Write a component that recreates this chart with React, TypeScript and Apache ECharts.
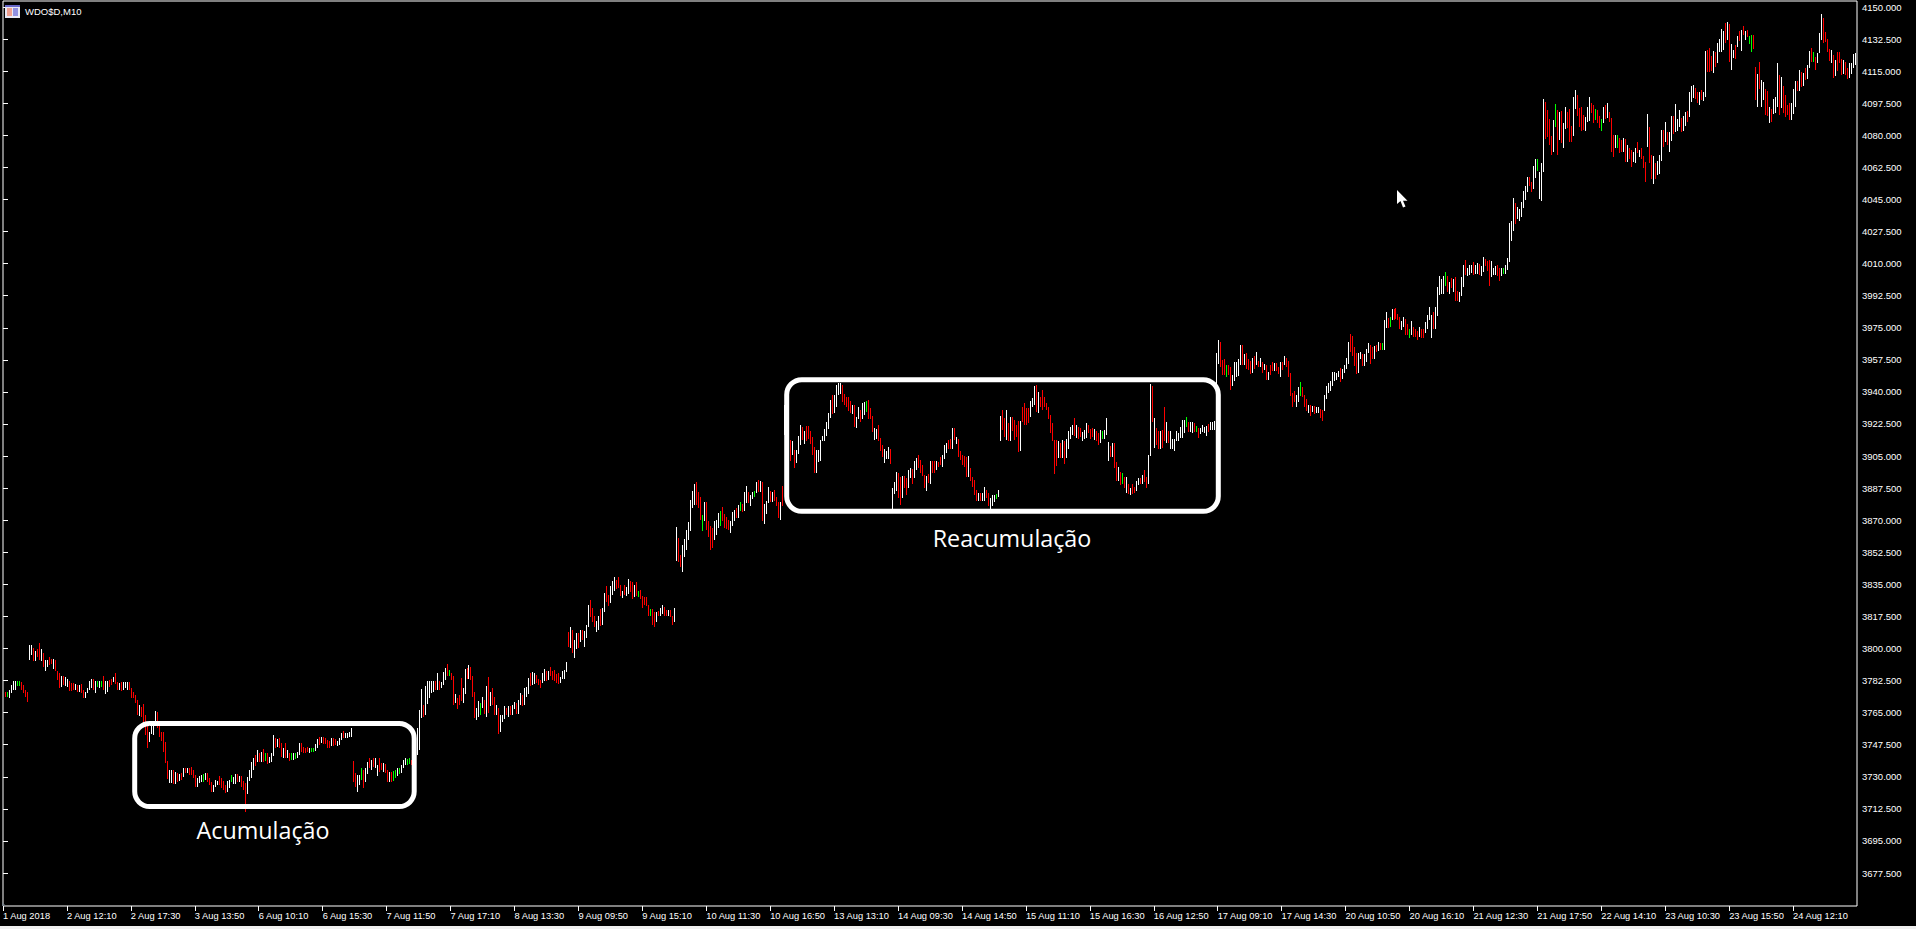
import React, { useEffect, useRef } from "react";
import * as echarts from "echarts";

type Bar = [number, number, string];
const u = "u", d = "d", f = "f";

const xTickLabels = ["1 Aug 2018","2 Aug 12:10","2 Aug 17:30","3 Aug 13:50","6 Aug 10:10","6 Aug 15:30","7 Aug 11:50","7 Aug 17:10","8 Aug 13:30","9 Aug 09:50","9 Aug 15:10","10 Aug 11:30","10 Aug 16:50","13 Aug 13:10","14 Aug 09:30","14 Aug 14:50","15 Aug 11:10","15 Aug 16:30","16 Aug 12:50","17 Aug 09:10","17 Aug 14:30","20 Aug 10:50","20 Aug 16:10","21 Aug 12:30","21 Aug 17:50","22 Aug 14:10","23 Aug 10:30","23 Aug 15:50","24 Aug 12:10"];
const barsPerXTick = 32;
const yTickValues = [3677.5,3695,3712.5,3730,3747.5,3765,3782.5,3800,3817.5,3835,3852.5,3870,3887.5,3905,3922.5,3940,3957.5,3975,3992.5,4010,4027.5,4045,4062.5,4080,4097.5,4115,4132.5,4150];

// [high, low, direction]: u = up bar, d = down bar, f = flat bar
const firstDayBars: Bar[] = [[3776.5,3773.5,d],[3776,3773.5,f],[3777.5,3773,u],[3780,3775.5,u],[3782,3777.5,u],[3782,3777.5,u],[3782,3779.5,f],[3782,3779.5,f],[3781.5,3777.5,d],[3780,3775.5,d],[3777.5,3773.5,d],[3776,3771,d]];
const secondDayBars: Bar[] = [[3802,3793.5,u],[3802,3796.5,u],[3800.5,3793,d],[3798.5,3793,u],[3799.5,3795.5,d],[3803,3793.5,d],[3799.5,3793,u],[3797.5,3790,d],[3793.5,3787.5,u],[3793.5,3790,u],[3795.5,3791,d],[3794.5,3791.5,d],[3794.5,3789,u],[3793.5,3787.5,d],[3787.5,3783,d],[3786.5,3778.5,d],[3785,3779,u],[3785,3780,d],[3784.5,3779.5,u],[3783.5,3779,u],[3782,3777,d],[3781,3777,d],[3781,3777.5,d],[3780.5,3777.5,u],[3780,3776.5,d],[3780,3776.5,u],[3780.5,3775.5,d],[3777.5,3773,d],[3776.5,3773,u],[3778.5,3775.5,u],[3782,3777.5,u],[3783.5,3778.5,u],[3783.5,3777.5,d],[3782,3775.5,u],[3782,3779,f],[3782,3778.5,u],[3782.5,3779,f],[3785,3777.5,d],[3782,3775,u],[3782.5,3776.5,u],[3783,3779,d],[3783.5,3780,d],[3784.5,3781.5,u],[3786.5,3780.5,d],[3781.5,3777.5,d],[3781,3777.5,u],[3781.5,3777,d],[3781.5,3777.5,u],[3781.5,3778.3,u],[3781.5,3777.5,u],[3781.5,3777.5,d],[3778.3,3773.2,d],[3776.1,3772.9,d],[3774.7,3770.1,d],[3771.9,3763.7,d],[3769.2,3763.4,u],[3768.3,3762.8,d],[3769.7,3759.2,d],[3763.7,3752.8,d],[3758.3,3745.5,d],[3754.6,3748.8,u],[3758.3,3753.2,u],[3758.3,3752.8,u],[3765.9,3759.2,u],[3765.6,3756.5,d],[3760.1,3751.9,d],[3754.6,3749.5,d],[3754.6,3743.7,d],[3749.2,3737.4,d],[3738.6,3728.8,d]];
const thirdDayBars: Bar[] = [[3733.7,3726.4,u],[3733.7,3726.4,u],[3733.7,3725.9,d],[3732.8,3725.9,u],[3731.9,3727.3,d],[3731.3,3727.7,u],[3731.9,3728.3,d],[3734.6,3730.1,u],[3735,3731.9,d],[3735,3731.9,u],[3734.6,3731,d],[3735.5,3731,d],[3733.7,3729.2,d],[3731,3724.6,d],[3729.2,3724.6,u],[3730.6,3726.4,u],[3731,3727,u],[3731.3,3727,f],[3731.9,3728.3,u],[3731.9,3727.3,d],[3729.2,3725.5,d],[3727.3,3721.9,d],[3725.5,3721.5,u],[3728.3,3724.6,u],[3727.7,3725.5,u],[3730.6,3725.5,d],[3729.2,3723.7,d],[3727.7,3722.8,d],[3725.5,3721,d],[3727.7,3721.5,u],[3728.3,3723.7,u],[3731,3727,f],[3730.1,3725.9,u],[3731.3,3725.9,u],[3731.3,3727.3,d],[3730.6,3727.3,u],[3730.6,3724.6,d],[3727.7,3722.8,d],[3726.4,3711,d],[3730.1,3720.4,u],[3733.7,3727.7,u],[3738.3,3729.5,u],[3740.1,3733.7,u],[3741.9,3736.1,d],[3744.6,3737.9,u],[3742.8,3738.3,d],[3743.7,3738.3,u],[3745.2,3738.3,d],[3742.8,3738.6,f],[3742.8,3736.8,d],[3741,3737.4,u],[3742.8,3738.3,u],[3752.8,3741.5,u],[3751,3745.9,d],[3750.6,3746.5,u],[3751,3745.5,d],[3748.3,3741,d],[3745.5,3740.4,u],[3748.3,3740.4,d],[3744.6,3740.1,u],[3742.8,3738.6,d],[3742.8,3739.2,f],[3742.8,3739.2,u],[3742.8,3739.7,f],[3743.4,3740.1,u],[3748.3,3741.9,u],[3748.3,3743.7,d],[3746.5,3742.8,d],[3745.9,3742.8,d],[3746.5,3743.4,d],[3745.5,3742.8,u],[3745.5,3743.4,f],[3745.9,3743.4,f],[3747.7,3744,u],[3750.6,3745.9,u],[3751.9,3747.4,d],[3751.9,3748.3,u],[3751.9,3747.7,d],[3751,3747.7,d],[3750.1,3745.9,d],[3749.5,3745.9,d],[3751,3747,u],[3751,3747,d],[3750.6,3747.4,d],[3749.5,3747,u],[3751.4,3747.4,u],[3753.7,3750.1,u],[3755,3751,d],[3753.7,3751.4,u],[3753.7,3751.4,u],[3754.3,3751.9,u],[3756.8,3751.9,u]];
const fourthDayBars: Bar[] = [[3738.6,3727.3,d],[3731.9,3724.6,d],[3731,3721.9,u],[3731,3725.5,u],[3734.6,3728.3,f],[3733.7,3723.7,d],[3734.6,3727.3,u],[3738.3,3731.3,u],[3740.4,3734.6,d],[3739.2,3733.7,u],[3740.1,3735.5,d],[3740.1,3734.6,u],[3736.4,3730.6,u],[3740.1,3732.8,d],[3737.4,3733.7,d],[3737.4,3732.8,u],[3736.8,3731.9,d],[3733.7,3727,d],[3732.8,3727,u],[3732.8,3727.3,d],[3733.2,3727.7,f],[3733.7,3729.5,f],[3734.6,3730.6,u],[3735,3731.3,f],[3736.4,3731.9,u],[3739.2,3734.6,u],[3740.1,3736.4,u],[3739.7,3736.4,f],[3740.1,3736.8,f],[3739.2,3736.4,d],[3741,3737.5,u],[3742.9,3738.5,u],[3756.5,3742,u],[3766.5,3744.5,u],[3778,3762,u],[3769,3762.5,d],[3779.5,3763.5,u],[3782.5,3769.5,u],[3782,3773,u],[3782,3775.5,u],[3782.5,3776,u],[3782.5,3777.5,d],[3786.5,3777.5,u],[3782.5,3777.5,d],[3781.5,3778.5,u],[3787,3780,u],[3789.5,3783,u],[3791.5,3785,d],[3788.5,3785,f],[3786.5,3783,d],[3785,3769,d],[3775,3770,u],[3773,3767,d],[3774.5,3769,d],[3784,3771.5,d],[3778.5,3770.5,u],[3789,3775,u],[3789.5,3783.5,d],[3791,3783.5,u],[3790,3783,d],[3785,3773.5,d],[3776.5,3762,d],[3767.5,3761,u],[3771.5,3762.5,u],[3770.5,3763.5,f],[3773.5,3767.5,u],[3772,3764,d],[3779.5,3762.5,u],[3784.5,3765,d],[3776,3768.5,u],[3778.5,3769,d],[3773.5,3763.5,d],[3769,3763.5,u],[3767.5,3753.5,d],[3763.5,3754.5,u],[3763.5,3760,u],[3768.5,3761.5,u],[3767.5,3763.5,d],[3768.5,3762.5,u],[3768.5,3763.5,d],[3769,3763.5,u],[3771,3767,u],[3770,3764.5,d],[3772,3764,u],[3775.5,3769,u],[3774.5,3768.5,d],[3778.5,3769,u],[3779,3773.5,u],[3784,3775,u],[3786.5,3779.5,d],[3787,3780,u],[3786.5,3780.5,u],[3785.5,3781,d],[3783.5,3780,d],[3783,3778.5,d],[3786.5,3781,u],[3789,3782.5,u],[3787.5,3782.5,d],[3787.5,3783,u],[3790,3785,d],[3787.5,3783,d],[3788,3782.5,d],[3786,3781,d],[3786.5,3780.5,d],[3784.5,3781,u],[3787.5,3783.5,u],[3788.5,3783.5,u],[3792.5,3787,u]];
const fifthDayBars: Bar[] = [[3809,3801,d],[3812,3800.5,u],[3810,3797.5,d],[3804.5,3795,u],[3808.5,3800,u],[3808.5,3800.5,d],[3810,3803.5,u],[3810,3804.5,d],[3809.5,3801,u],[3813,3806,u],[3823.5,3811.5,u],[3826.5,3817,d],[3822,3814.5,d],[3818,3811.5,d],[3815,3809,u],[3818,3810,u],[3821.5,3812.5,d],[3822,3813,u],[3830.5,3820,u],[3834,3825.5,d],[3829,3823,d],[3834,3825,u],[3837,3829,u],[3839,3831.5,u],[3837.5,3832.5,d],[3839,3833,d],[3834.5,3828.5,d],[3831.5,3827.5,u],[3834.5,3829,d],[3833.5,3828.5,u],[3838,3830,u],[3837,3831,d],[3836.5,3827,d],[3834.5,3828,u],[3836.5,3828.5,d],[3831.5,3828,f],[3832,3827,d],[3828.5,3822,d],[3828,3823.5,d],[3828,3823,d],[3824,3817.5,d],[3821.5,3818,f],[3821.5,3813,d],[3820,3812,d],[3820,3814.5,u],[3820.5,3817.5,d],[3822,3817.5,u],[3824,3819,u],[3822.5,3817.5,d],[3821,3817.5,d],[3821,3817.5,u],[3821,3817,d],[3817.5,3813,d],[3822,3814.5,u]];
const sixthDayBars: Bar[] = [[3866.5,3847.8,u],[3860.5,3847,d],[3851,3844.7,d],[3856.5,3842,u],[3860,3850,u],[3864.7,3853.8,u],[3869,3859.3,u],[3881,3864,u],[3886,3876.6,u],[3890,3878.4,u],[3890.8,3878.4,d],[3885.3,3876.6,d],[3882.4,3870.2,d],[3872.6,3864.2,f],[3880.2,3869.7,u],[3879.9,3864.7,d],[3869.3,3860.6,d],[3867,3853.8,d],[3865.7,3855.1,d],[3869.7,3859.3,u],[3870.2,3862,u],[3873.9,3865.7,u],[3874.8,3867.1,f],[3877,3869.7,d],[3873.3,3866,d],[3871.5,3865.3,d],[3870.2,3864.7,d],[3869.3,3862.9,u],[3874.4,3866.6,u],[3875.7,3869.3,u],[3876.6,3871.1,d],[3878.4,3871.1,u],[3880.2,3874.8,f],[3878.8,3874.4,d],[3885.3,3875.1,u],[3888.4,3879.3,u],[3885.3,3879.3,d],[3883.5,3877.5,u],[3885.3,3881.7,u],[3886,3882.4,f],[3891.1,3884.8,u],[3892,3885.3,d],[3891.5,3885.3,u],[3890.8,3869.7,d],[3878.8,3867.8,u],[3880.6,3873.3,u],[3887.9,3879.3,u],[3886,3880.2,d],[3885.3,3880.2,u],[3886.6,3880.6,d],[3882.4,3877.5,d],[3879.9,3871.1,d],[3880.2,3870.2,u],[3888.4,3877.5,d]];
const seventhDayBars: Bar[] = [[3933,3916.5,u],[3929.5,3913,d],[3923.5,3903.5,u],[3914,3902.5,d],[3913,3905.5,u],[3908.5,3898.5,d],[3908.5,3901,u],[3916,3906,u],[3922,3911,u],[3921,3914,d],[3918.5,3911.5,u],[3921.5,3913,d],[3921.5,3914.5,d],[3918.5,3911.5,d],[3915.5,3905.5,d],[3910,3896,d],[3908.5,3896,u],[3908.5,3901.5,u],[3914,3902.5,u],[3916,3913,u],[3920,3913,u],[3923.5,3916,u],[3928.5,3920,u],[3935.5,3926,u],[3938.5,3928,d],[3938.5,3928.5,u],[3944,3931.5,u],[3945,3938.5,u],[3945,3939,u],[3944,3934.5,d],[3939,3933,d],[3937.5,3932,d],[3937.5,3929.5,d],[3935,3928.5,d],[3933,3928,u],[3933,3921,d],[3926.5,3920.5,u],[3932,3925,u],[3930,3923.5,d],[3934,3925,u],[3934.5,3927.5,u],[3935,3929,f],[3935.5,3925,d],[3931,3925,d],[3927,3918,d],[3920.5,3914,u],[3920,3914.5,u],[3922,3913,d],[3915,3908,d],[3911,3904.5,d],[3909,3901,u],[3907.5,3903.5,u],[3910,3903.5,u],[3909,3900.5,d]];
const eighthDayBars: Bar[] = [[3887.5,3876,u],[3891,3884.5,u],[3896.5,3886,u],[3895.5,3882,d],[3893.5,3878.5,d],[3894,3882,u],[3894,3887.5,d],[3893,3883.5,d],[3897.5,3887.5,u],[3898.5,3893,u],[3898,3890,d],[3902.5,3893,u],[3904,3897.5,u],[3905.5,3898.5,d],[3903,3895.5,d],[3900,3894,d],[3894.5,3887.5,d],[3894,3886,u],[3895,3890.5,d],[3902.5,3890,u],[3902.5,3895.5,d],[3902.5,3896,d],[3902.5,3897.5,u],[3902,3899,d],[3904.5,3900,d],[3905.5,3899,u],[3911,3903.5,u],[3912,3906.5,u],[3914,3909,d],[3914.5,3909,d],[3920.5,3909,u],[3920.5,3914,d],[3915.5,3911.5,u],[3914.5,3904.5,d],[3907.5,3903,d],[3905.5,3900,d],[3905,3899,d],[3904.5,3893.5,d],[3905,3893.5,u],[3898.5,3891.5,d],[3893.5,3888,d],[3892,3884,d],[3886.5,3880.5,d],[3885,3880.5,u],[3885,3880.5,d],[3885,3880.5,u],[3888,3880.5,u],[3886.5,3882,d],[3885,3878,d],[3882,3876,u],[3884,3878,u],[3884,3880,u],[3884.5,3881.5,f],[3886.5,3882.5,u]];
const ninthDayBars: Bar[] = [[3927,3913,u],[3930,3919,d],[3925.5,3915.5,d],[3930,3914,u],[3923,3913,d],[3926.5,3913,u],[3926.5,3918.5,d],[3924.5,3914,d],[3922,3915.5,d],[3924,3907,d],[3924,3907.5,u],[3931.5,3923.5,d],[3934,3922,d],[3931,3922,d],[3931,3923,d],[3935,3926.5,u],[3936.5,3932,u],[3943,3933,u],[3944,3929,d],[3940,3928.5,u],[3937,3932,d],[3941,3930,d],[3937.5,3932,d],[3934,3930,d],[3932,3925,d],[3927.5,3917.5,d],[3923,3913,d],[3914,3895,d],[3914,3899.5,d],[3913,3904,u],[3912,3904,d],[3913.5,3904,u],[3913,3900.5,d],[3914.5,3904,u],[3918.5,3909,u],[3921,3914.5,u],[3922,3916.5,u],[3926,3916,d],[3922,3915,u],[3921,3914.5,d],[3920.5,3915.5,d],[3918,3913,u],[3919,3914.5,u],[3923,3915,u],[3922,3917.5,d],[3919.5,3914.5,d],[3920.5,3915.5,d],[3920,3914,u],[3918.5,3913,d],[3917.5,3911,d],[3919,3912,u],[3918.5,3914.5,f],[3919,3914.5,u],[3926,3916.5,u]];
const tenthDayBars: Bar[] = [[3912.5,3902.5,u],[3910.5,3904.5,d],[3912,3904.5,u],[3912,3898.5,d],[3902,3891.5,d],[3899,3891.5,u],[3896.5,3889,d],[3895.5,3889.5,f],[3893.5,3887.5,d],[3893.5,3885,u],[3890,3884.5,d],[3887.5,3883.5,u],[3889.5,3884.5,d],[3888,3885,d],[3891.5,3886,u],[3893,3889,u],[3893,3889.5,d],[3894.5,3889.5,u],[3897.5,3891,d],[3893.5,3887.5,d],[3905.5,3889.5,u],[3944.5,3905,u],[3943.5,3923.5,d],[3926,3909.5,u],[3920.5,3911,d],[3918.5,3909,d],[3918.5,3909,u],[3919,3909.5,d],[3932,3913,d],[3923.5,3912,u],[3918.5,3912,d],[3918.5,3909,u],[3914.5,3909,u],[3914.5,3908,u],[3918.5,3913,u],[3917.5,3913,u],[3921,3915,u],[3924.5,3915,u],[3924.5,3917.5,u],[3926.5,3921,f],[3923.5,3918,d],[3923.5,3918,u],[3923.5,3917.5,u],[3923,3918,d],[3921.5,3918,f],[3920.5,3915,d],[3920.5,3917,u],[3922,3918,u],[3921,3917.5,u],[3921.5,3916,u],[3922.5,3918,d],[3923.5,3919,u],[3923.5,3919,u],[3924,3919,u]];
const eleventhDayBars: Bar[] = [[3961.5,3944.5,u],[3968.5,3955.5,u],[3967.5,3953.5,d],[3957.5,3949.5,d],[3958,3949,d],[3954.5,3948,f],[3954.5,3949,d],[3953.5,3941,d],[3949,3943.5,u],[3956.5,3946,u],[3956.5,3948,u],[3958,3948.5,u],[3965.5,3954.5,u],[3965.5,3954.5,d],[3960.5,3954.5,u],[3961,3952.5,d],[3958,3952,d],[3957,3950,d],[3958.5,3950.5,u],[3959.5,3952.5,d],[3962,3954.5,u],[3957,3953.5,d],[3958.5,3953.5,u],[3956.5,3950.5,d],[3955,3952,u],[3954.5,3946.5,d],[3951,3946.5,u],[3954.5,3949,d],[3956.5,3951.5,d],[3956,3951.5,u],[3956,3951.5,d],[3953.5,3950,d],[3956.5,3948,u],[3956.5,3952,d],[3959.5,3954.5,u],[3958.5,3953.5,d],[3957,3948,d],[3950.5,3938,d],[3939.5,3932,d],[3940.5,3934.5,d],[3938.5,3932,u],[3942.5,3934.5,u],[3945.5,3938,f],[3942.5,3937,d],[3938.5,3932,d],[3936,3929.5,d],[3933,3928.5,u],[3933,3927,d],[3932.5,3929,u],[3932.5,3928,d],[3932,3928.5,u],[3932,3928.5,u],[3930.5,3926,d],[3930,3924,d]];
const twelfthDayBars: Bar[] = [[3938.5,3929.5,u],[3943.5,3936,u],[3945,3939.5,u],[3946,3940.5,u],[3951,3943,u],[3951,3946,u],[3950.5,3946.5,u],[3951.5,3948,u],[3953,3945.5,d],[3952.5,3947,u],[3954.5,3950.5,u],[3958.5,3952.5,u],[3967,3955.5,u],[3971.5,3962,d],[3970.5,3959.5,d],[3964.5,3954,d],[3961,3950,d],[3961.5,3950.5,u],[3962,3958,u],[3960.5,3954,d],[3960.5,3954,u],[3963.5,3956.5,u],[3966.5,3961.5,u],[3965.5,3955.5,d],[3964.5,3958,d],[3965,3958,u],[3965.5,3962,d],[3967,3962.5,u],[3966.5,3963,d],[3966.5,3963,f],[3979.5,3963,u],[3983.5,3975,u],[3980.5,3975,d],[3981,3975.5,f],[3985.5,3979.5,u],[3985.5,3979,d],[3986,3980,d],[3982.5,3979,d],[3981,3974.5,d]];
const thirteenthDayBars: Bar[] = [[3978.5,3973.8,u],[3981,3975.5,u],[3980,3971,d],[3977,3971,d],[3974.5,3969.5,f],[3978.5,3971,u],[3975.5,3970,d],[3974.5,3970,d],[3973.5,3968.5,d],[3975.5,3970,u],[3974.5,3969.5,d],[3974.5,3969.5,d],[3978,3972,u],[3982,3974.5,u],[3986.5,3979.5,u],[3982,3969.5,u],[3983.5,3974.5,d],[3986.5,3974.5,u],[3997,3981.5,u],[4003.5,3993,u],[4001.5,3993.5,u],[4003.5,3993.5,u],[4005.5,3998,f],[4003.5,3994.5,d],[4000,3993.5,u],[4002,3996.5,d],[4001.5,3994.5,u],[4002.5,3989.5,d],[3995,3989.5,d],[3994.5,3989,u],[4002.5,3992.5,u],[4009,3997,u],[4012,4004,d],[4007.5,4003.5,u],[4009,4004,u],[4009,4005,u],[4011,4004,d],[4009,4004.5,u],[4010.5,4004.5,u],[4010,4004,d],[4008.5,4003,u],[4013.5,4005.5,u],[4012.5,4008.5,d],[4011.5,4006,d],[4012,3998,d],[4011.5,4002.5,u],[4007.5,4004,u],[4008.5,4004,u],[4009,4003.5,d],[4007.5,4000.5,d],[4007.5,4003,u],[4007.5,4004.5,f],[4009,4004.5,u],[4013,4006.5,u],[4032,4011,u],[4033,4022.5,u],[4046,4028,u],[4043,4031.5,d],[4041,4034.5,u],[4040,4033,u],[4043.5,4035.5,u],[4049.5,4040.5,u],[4052.5,4044.5,u],[4057,4049,u],[4057,4052.5,d],[4054.5,4049,d],[4063,4050.5,u],[4067,4056.5,u],[4067,4060.5,f],[4060,4045.5,u],[4065,4044,u],[4100,4060,u],[4098,4078,d]];
const fourteenthDayBars: Bar[] = [[4094,4079,d],[4089,4075,d],[4079.8,4069,d],[4088.5,4071,u],[4097,4084.5,f],[4093.9,4069.3,d],[4092.5,4077.5,u],[4093.3,4075.7,d],[4086.5,4073.3,u],[4095.7,4083.5,u],[4093,4083.9,d],[4094.4,4076.6,d],[4085.3,4076.6,d],[4101,4079.9,u],[4104.8,4094.4,u],[4102,4090.8,d],[4094.8,4084.8,d],[4095.7,4082.4,d],[4091,4083,d],[4090,4082.4,u],[4095.7,4087.5,u],[4101,4088,u],[4097.5,4092,d],[4096.6,4086.6,d],[4094.4,4088.4,f],[4093.9,4086.6,d],[4090.8,4084.2,d],[4089,4082.4,f],[4095.7,4086.6,u],[4096.6,4089,d],[4097.9,4089.7,u],[4092.6,4087.1,d],[4089.3,4071,d],[4080.2,4068.4,d],[4080.2,4073.3,u],[4080.2,4073.3,f],[4078.8,4070.2,d],[4077.5,4071,d],[4078.8,4070.8,u],[4078,4065.7,d],[4074.8,4065.7,u],[4073.3,4067.1,d],[4072,4062.9,d],[4071,4065.7,u],[4073.3,4064.7,u],[4076.2,4070.2,d],[4072,4068.4,u],[4073.3,4067.1,d],[4068.9,4062,d],[4065.3,4054.7,d],[4091.5,4073.8,u],[4084.8,4064.7,d],[4069.3,4056.2,d],[4068.9,4053.3,u],[4064.7,4056.2,d],[4066,4058.4,u],[4069.3,4058.7,u],[4083,4066,u],[4083,4073.8,d],[4087.1,4076.2,u],[4082,4074.8,d],[4081.7,4071,u],[4090.8,4077,u],[4090.8,4081,d],[4097.1,4082,u],[4089,4082.4,u],[4093.9,4084.8,u],[4089.3,4082,d],[4090.8,4082.4,u],[4092.6,4085.3,u],[4093.3,4087.1,d],[4103.5,4090.2,u],[4107,4098.4,u],[4107.5,4100.6,u],[4105.7,4099.9,d],[4103.9,4097.5,d],[4103.9,4096.6,u]];
const fifteenthDayBars: Bar[] = [[4105,4099.2,d],[4103.8,4098.8,u],[4126.1,4101,u],[4126.5,4114.7,d],[4127.4,4114.7,d],[4123.2,4115.2,d],[4126.1,4114.1,u],[4125.5,4117.4,d],[4130.5,4119.5,u],[4132.3,4125.5,u],[4137.8,4125.5,u],[4137.1,4126.5,u],[4141.4,4130.5,d],[4142,4132,u],[4140.7,4120.1,d],[4130.1,4115.9,u],[4126.5,4122,u],[4129.2,4121.4,d],[4134.1,4128,u],[4137.1,4131.6,d],[4137.4,4126.1,u],[4139.6,4134.7,d],[4137.1,4132,u],[4137.4,4133.4,d],[4134.1,4129.8,f],[4134.7,4125.6,f],[4134.7,4126.9,d]];
const lastDayBars: Bar[] = [[4117.4,4099.2,d],[4113.4,4095.5,u],[4120.1,4105.5,d],[4110.1,4095.2,u],[4109.2,4099.5,u],[4105.5,4091,d],[4104.3,4090.5,d],[4095.5,4086.5,u],[4094.5,4087.4,d],[4100.1,4091.9,u],[4101,4092.3,u],[4119.5,4095.5,u],[4112.8,4091,d],[4111.9,4094.7,u],[4106.8,4092.3,d],[4101.9,4090.1,d],[4096.5,4091,d],[4097.4,4088.6,d],[4097.4,4088.6,u],[4105.5,4091.5,u],[4109.8,4095.5,u],[4109.8,4104.3,d],[4115.9,4104.3,u],[4114.7,4106.5,d],[4114.1,4106.8,u],[4116.5,4110.1,d],[4118.3,4111,u],[4126.1,4116.5,u],[4127.4,4120.1,d],[4125.6,4120.1,f],[4122.9,4115.9,d],[4124.7,4119.5,u],[4136,4125,u],[4146.2,4132,u],[4143.8,4130.5,d],[4136.5,4131,d],[4132.3,4125.6,d],[4126.9,4120.7,d],[4126.5,4119.2,u],[4123.8,4111.5,d],[4121,4112.3,u],[4125.6,4115.2,d],[4125.6,4119.2,d],[4121.9,4112.8,d],[4121,4113.4,u],[4120.1,4112.8,d],[4116.5,4111,d],[4119.2,4111.5,u],[4119.2,4113.4,u],[4124.3,4116.5,u],[4124.7,4118.3,u]];

const allBars: Bar[] = [...firstDayBars, ...secondDayBars, ...thirdDayBars, ...fourthDayBars, ...fifthDayBars, ...sixthDayBars, ...seventhDayBars, ...eighthDayBars, ...ninthDayBars, ...tenthDayBars, ...eleventhDayBars, ...twelfthDayBars, ...thirteenthDayBars, ...fourteenthDayBars, ...fifteenthDayBars, ...lastDayBars];

const directionColors: Record<string, string> = { u: "#ffffff", d: "#ff0000", f: "#00ff00" };
const uiFont = '"Liberation Sans", Arial, sans-serif';

export default function App() {
  const ref = useRef<HTMLDivElement>(null);
  useEffect(() => {
    document.body.style.margin = "0";
    document.body.style.background = "#000";
    const chart = echarts.init(ref.current!, undefined, { renderer: "svg" });
    const xTicks = xTickLabels.map((_, i) => i * barsPerXTick);
    chart.setOption({
      animation: false,
      backgroundColor: "#000000",
      grid: { show: true, left: 1, top: 1, width: 1856, height: 905, borderColor: "#ffffff", borderWidth: 1, backgroundColor: "#000000", containLabel: false },
      xAxis: {
        type: "value", min: 0, max: xTickLabels.length * barsPerXTick,
        axisLine: { show: false }, splitLine: { show: false },
        axisTick: { show: true, length: 5, customValues: xTicks, lineStyle: { color: "#fff", width: 1 } },
        axisLabel: {
          customValues: xTicks, color: "#fff", fontFamily: uiFont, fontSize: 9.3, margin: 5, align: "left",
          formatter: (v: number) => xTickLabels[Math.round(v / barsPerXTick)] ?? "",
        },
      },
      yAxis: {
        type: "value", position: "right", min: 3659.5, max: 4153.3, scale: true,
        axisLine: { show: false }, splitLine: { show: false },
        axisTick: { show: true, length: 5, customValues: yTickValues, lineStyle: { color: "#fff", width: 1 } },
        axisLabel: {
          customValues: yTickValues, color: "#fff", fontFamily: uiFont, fontSize: 9.5, margin: 5,
          formatter: (v: number) => v.toFixed(3),
        },
      },
      series: [{
        type: "custom", silent: true, clip: false,
        encode: { x: 0, y: [1, 2] },
        data: allBars.map((b, i) => [i + 1, b[0], b[1]]),
        renderItem: (params: any, api: any) => {
          const top = api.coord([api.value(0), api.value(1)]);
          const bottom = api.coord([api.value(0), api.value(2)]);
          const y = Math.round(top[1]);
          return {
            type: "rect",
            shape: { x: Math.round(top[0]), y, width: 1, height: Math.max(1, Math.round(bottom[1]) - y) },
            style: { fill: directionColors[allBars[params.dataIndex][2]] },
          };
        },
      }],
      graphic: [
        { type: "rect", z: 100, shape: { x: 134.7, y: 723.4, width: 279.5, height: 83.2, r: 15 }, style: { fill: "none", stroke: "#fff", lineWidth: 5 } },
        { type: "rect", z: 100, shape: { x: 786.7, y: 379.7, width: 431.6, height: 131.6, r: 15 }, style: { fill: "none", stroke: "#fff", lineWidth: 5 } },
        { type: "text", z: 100, x: 263, y: 830, style: { text: "Acumulação", fill: "#fff", font: '23.3px "Open Sans"', textAlign: "center", textVerticalAlign: "middle" } },
        { type: "text", z: 100, x: 1012, y: 538, style: { text: "Reacumulação", fill: "#fff", font: '23.3px "Open Sans"', textAlign: "center", textVerticalAlign: "middle" } },
        { type: "text", z: 100, x: 25, y: 11, style: { text: "WDO$D,M10", fill: "#fff", font: `9.5px ${uiFont}`, textAlign: "left", textVerticalAlign: "middle" } },
        // window icon
        { type: "rect", z: 100, shape: { x: 5, y: 5, width: 15, height: 13 }, style: { fill: "#e8e8f4" } },
        { type: "rect", z: 100, shape: { x: 5, y: 5, width: 15, height: 2 }, style: { fill: "#6868c8" } },
        { type: "rect", z: 100, shape: { x: 7, y: 8, width: 5, height: 8 }, style: { fill: "#f0a090" } },
        { type: "rect", z: 100, shape: { x: 13, y: 8, width: 5, height: 8 }, style: { fill: "#9090e0" } },
        // mouse pointer
        { type: "polygon", z: 100, shape: { points: [[1397, 190], [1397, 204], [1400.5, 201], [1403, 207.5], [1405.5, 206.5], [1403, 200.7], [1407.5, 200.7]] }, style: { fill: "#fff" } },
        // scale-fix marker in the corner
        { type: "polygon", z: 100, shape: { points: [[2, 902], [6, 906], [2, 906]] }, style: { fill: "#778088" } },
        // window edge
        { type: "rect", z: 100, shape: { x: 0, y: 926, width: 1916, height: 3 }, style: { fill: "#f0f0f0" } },
      ],
    });
    return () => chart.dispose();
  }, []);
  return <div ref={ref} style={{ position: "fixed", left: 0, top: 0, width: 1916, height: 929, background: "#000" }} />;
}
